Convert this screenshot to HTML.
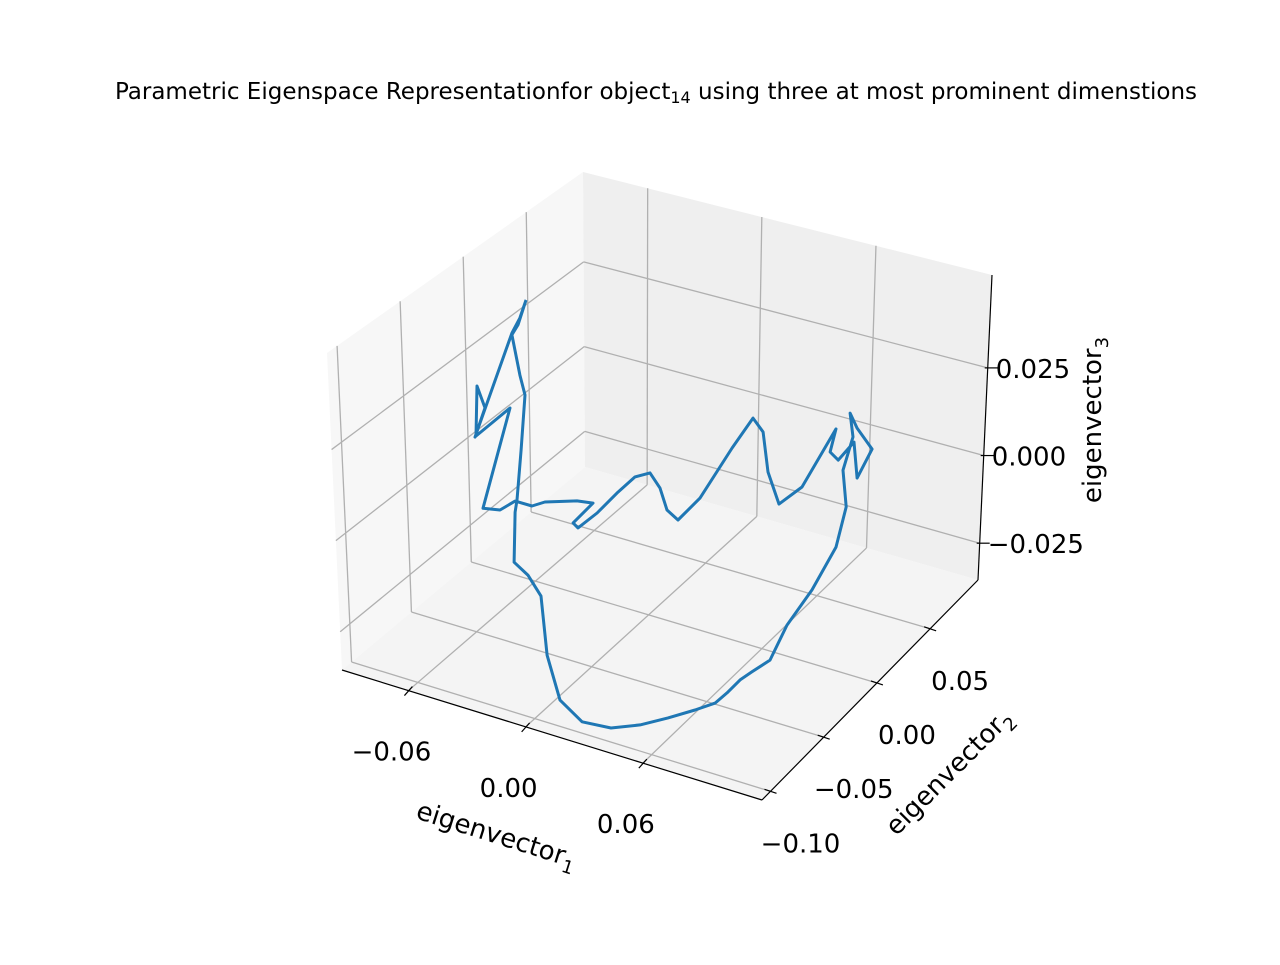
<!DOCTYPE html>
<html><head><meta charset="utf-8"><style>
html,body{margin:0;padding:0;background:#fff;}
svg text{font-family:"DejaVu Sans","Liberation Sans",sans-serif;fill:#000;}
</style></head><body>
<svg id="chart" width="1280" height="960" viewBox="0 0 1280 960" xmlns="http://www.w3.org/2000/svg">
<text x="656" y="99" font-size="23" text-anchor="middle">Parametric Eigenspace Representationfor object<tspan font-size="16" dy="4">14</tspan><tspan dy="-4"> using three at most prominent dimenstions</tspan></text>
<g id="panes"></g><g id="grid"></g><g id="axes"></g><g id="series"></g>
<text x="0" y="0" font-size="26" text-anchor="middle" transform="translate(494,843) rotate(17.5)">eigenvector<tspan font-size="18" dy="7">1</tspan></text>
<text x="0" y="0" font-size="26" text-anchor="middle" transform="translate(955,778) rotate(-45)">eigenvector<tspan font-size="18" dy="7">2</tspan></text>
<text x="0" y="0" font-size="26" text-anchor="middle" transform="translate(1101,420) rotate(-90)">eigenvector<tspan font-size="18" dy="7">3</tspan></text>
</svg>
<script>
const xTicks=[-0.06,0.00,0.06];
const xTickLabels=["\u22120.06","0.00","0.06"];
const yTicks=[-0.10,-0.05,0.00,0.05];
const yTickLabels=["\u22120.10","\u22120.05","0.00","0.05"];
const zTicks=[-0.025,0.000,0.025];
const zTickLabels=["\u22120.025","0.000","0.025"];
const xVals=[-0.0551,-0.0592,-0.0623,-0.0582,-0.0556,-0.0576,-0.0597,-0.0607,-0.0612,-0.0541,-0.0474,-0.0443,-0.0377,-0.0264,-0.0116,0.0033,0.0176,0.0314,0.0417,0.0478,0.0545,0.0606,0.0698,0.0785,0.0913,0.1036,0.1088,0.1072,0.1123,0.1108,0.1144,0.1221,0.1144,0.1128,0.1047,0.1006,0.1036,0.0862,0.0744,0.0688,0.0663,0.0611,0.0504,0.0340,0.0227,0.0171,0.0135,0.0084,0.0007,-0.0080,-0.0187,-0.0285,-0.0310,-0.0208,-0.0290,-0.0454,-0.0520,-0.0607,-0.0684,-0.0771,-0.0633,-0.0807,-0.0802,-0.0761,-0.0812,-0.0623,-0.0582,-0.0551];
const zVals=[0.0468,0.0389,0.0355,0.0246,0.0193,0.0031,-0.0117,-0.0154,-0.0299,-0.0324,-0.0373,-0.0538,-0.0656,-0.0699,-0.0691,-0.0656,-0.0611,-0.0564,-0.0526,-0.0486,-0.0437,-0.0403,-0.0353,-0.0237,-0.0113,0.0032,0.0157,0.0260,0.0365,0.0431,0.0394,0.0347,0.0250,0.0351,0.0285,0.0301,0.0373,0.0175,0.0105,0.0188,0.0299,0.0330,0.0225,0.0052,-0.0031,-0.0012,0.0045,0.0080,0.0055,-0.0004,-0.0083,-0.0143,-0.0133,-0.0058,-0.0066,-0.0098,-0.0121,-0.0122,-0.0161,-0.0171,0.0142,0.0031,0.0176,0.0120,0.0027,0.0360,0.0411,0.0468];
const yVals=xVals.map(()=>-0.002);

const NS="http://www.w3.org/2000/svg";
const XR=[-0.094,0.121], YR=[-0.108,0.095], ZR=[-0.0355,0.0515];
const C={"000":[342,670],"100":[762,800],"110":[978,580],"010":[585,467],"001":[327,353],"011":[583,172],"111":[992,275],"101":[770,478]};
function tri(a,b,c){let x=0,y=0;for(const k in C){const w=(k[0]=="1"?a:1-a)*(k[1]=="1"?b:1-b)*(k[2]=="1"?c:1-c);x+=w*C[k][0];y+=w*C[k][1];}return [x,y];}
const na=v=>(v-XR[0])/(XR[1]-XR[0]), nb=v=>(v-YR[0])/(YR[1]-YR[0]), nc=v=>(v-ZR[0])/(ZR[1]-ZR[0]);
function proj(x,y,z){const a=(x+0.094)/0.215,b=(y+0.10)/0.196,c=(z+0.035)/0.088;return [342+420*a+216*b,670+130*a-220*b-305*c];}
function el(tag,attrs,parent){const e=document.createElementNS(NS,tag);for(const k in attrs)e.setAttribute(k,attrs[k]);parent.appendChild(e);return e;}
const panes=document.getElementById('panes'),grid=document.getElementById('grid'),axes=document.getElementById('axes'),series=document.getElementById('series');
function poly(pts,fill,name){const p=el('polygon',{points:pts.map(q=>q.join(',')).join(' '),fill:fill},panes);

}
poly([C["000"],C["010"],C["011"],C["001"]],"#f7f7f7","left-pane");
poly([C["010"],C["110"],C["111"],C["011"]],"#efefef","back-pane");
poly([C["000"],C["100"],C["110"],C["010"]],"#f4f4f4","floor-pane");
function line(p,q,parent,stroke,w,name){const l=el('line',{x1:p[0],y1:p[1],x2:q[0],y2:q[1],stroke:stroke,'stroke-width':w},parent);

return l;}
const G="#b0b0b0";
xTicks.forEach(t=>{const a=na(t);line(tri(a,0,0),tri(a,1,0),grid,G,1.3,'x-gridline');line(tri(a,1,0),tri(a,1,1),grid,G,1.3,'x-gridline');});
yTicks.forEach(t=>{const b=nb(t);line(tri(0,b,0),tri(1,b,0),grid,G,1.3,'y-gridline');line(tri(0,b,0),tri(0,b,1),grid,G,1.3,'y-gridline');});
zTicks.forEach(t=>{const c=nc(t);line(tri(0,0,c),tri(0,1,c),grid,G,1.3,'z-gridline');line(tri(0,1,c),tri(1,1,c),grid,G,1.3,'z-gridline');});
line(C["000"],C["100"],axes,"#000",1.2,'x-axis-line');
line(C["100"],C["110"],axes,"#000",1.2,'y-axis-line');
line(C["110"],C["111"],axes,"#000",1.2,'z-axis-line');
function txt(s,x,y,name){const t=el('text',{x:x,y:y,'font-size':26,'text-anchor':'middle'},axes);t.textContent=s;

}
xTicks.forEach((t,i)=>{const a=na(t);const p=tri(a,0,0);line([p[0]+4,p[1]-4],[p[0]-4,p[1]+5],axes,"#000",1.2,'x-tick');txt(xTickLabels[i],p[0]-17,p[1]+70,'x-tick-label');});
yTicks.forEach((t,i)=>{const b=nb(t);const p=tri(1,b,0);line([p[0]-6,p[1]-2],[p[0]+6,p[1]+2],axes,"#000",1.2,'y-tick');txt(yTickLabels[i],p[0]+30,p[1]+61,'y-tick-label');});
zTicks.forEach((t,i)=>{const c=nc(t);const p=tri(1,1,c);line([p[0]-3,p[1]],[p[0]+10,p[1]],axes,"#000",1.2,'z-tick');const tt=el('text',{x:p[0]+8,y:p[1]+10,'font-size':26},axes);tt.textContent=zTickLabels[i];

});
const pts=xVals.map((x,i)=>proj(x,yVals[i],zVals[i]));
const path=el('polyline',{points:pts.map(p=>p[0].toFixed(1)+','+p[1].toFixed(1)).join(' '),fill:'none',stroke:'#1f77b4','stroke-width':3,'stroke-linejoin':'round'},series);


</script>
</body></html>
